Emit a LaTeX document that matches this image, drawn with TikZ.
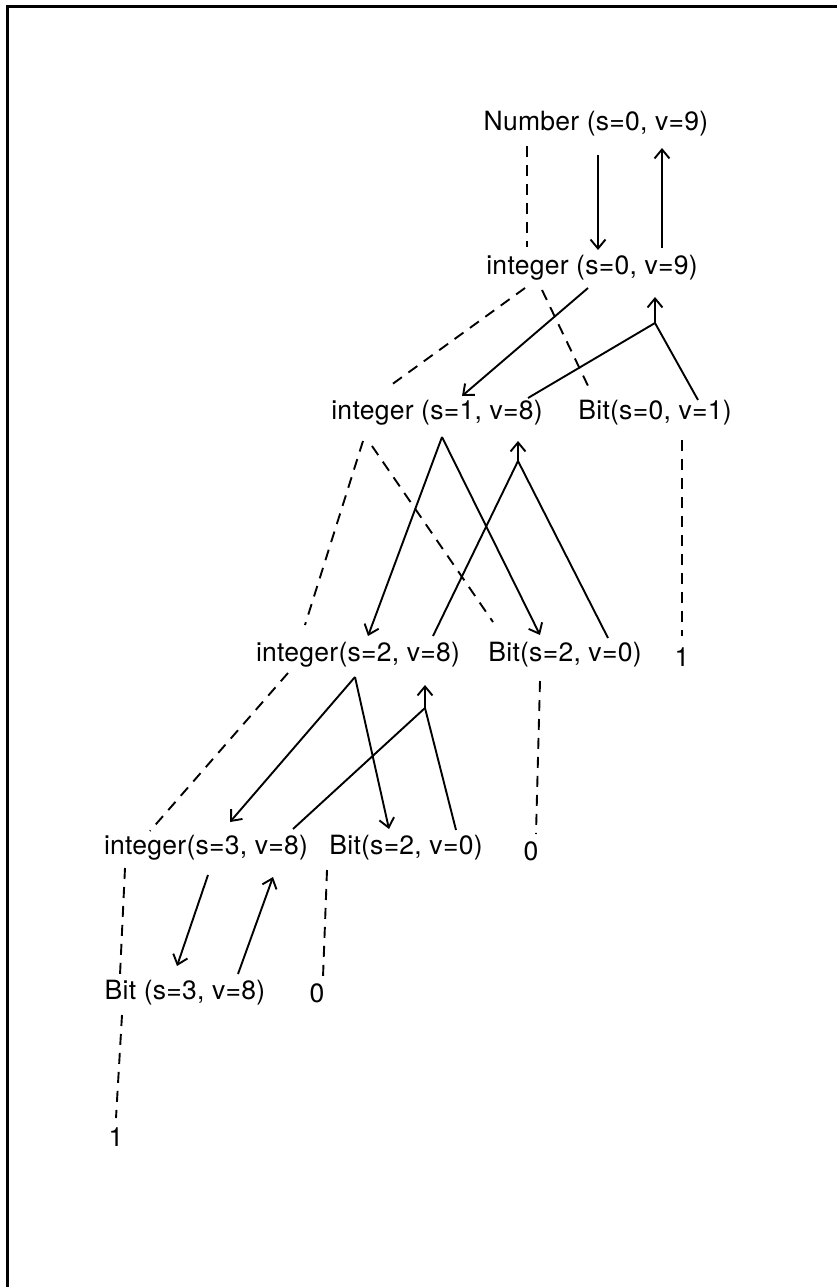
\documentclass[tikz,border=0pt]{standalone}
\usepackage{fontspec}
\setmainfont{TeX Gyre Heros}[LetterSpace=1]
\usetikzlibrary{arrows.meta,calc}
\begin{document}
\begin{tikzpicture}[x=1pt,y=-1pt,
  lbl/.style={font=\fontsize{26.5}{30}\selectfont, inner sep=0pt, anchor=center},
  dsh/.style={line width=1.9pt, dash pattern=on 11pt off 8pt},
  sol/.style={line width=1.9pt},
  arr/.style={sol, -{Straight Barb[length=9pt,width=15pt]}}]
\useasboundingbox (0,0) rectangle (837,1287);
\draw[line width=3pt] (7,1287) -- (7,7) -- (837,7);

\node[lbl] (num)  at (596,124) {Number (s=0, v=9)};
\node[lbl] (i0)   at (592,268) {integer (s=0, v=9)};
\node[lbl] (i1)   at (437,413) {integer (s=1, v=8)};
\node[lbl] (b0)   at (655,413) {Bit(s=0, v=1)};
\node[lbl] (i2)   at (358,655) {integer(s=2, v=8)};
\node[lbl] (b2a)  at (565,655) {Bit(s=2, v=0)};
\node[lbl] (one1) at (682,657) {1};
\node[lbl] (i3)   at (206,848) {integer(s=3, v=8)};
\node[lbl] (b2b)  at (406,848) {Bit(s=2, v=0)};
\node[lbl] (zero1) at (531,851) {0};
\node[lbl] (b3)   at (185,993) {Bit (s=3, v=8)};
\node[lbl] (zero2) at (317,993) {0};
\node[lbl] (one2) at (116,1137) {1};

\coordinate (J1) at ($(i0.center)+(63,55)$);
\coordinate (J2) at ($(i1.center)+(81,48)$);
\coordinate (J3) at ($(i2.center)+(67,53)$);
\coordinate (P1) at ($(i1.center)+(5,24)$);
\coordinate (P2) at ($(i2.center)+(-3,22)$);

% dashed parse-tree edges
\draw[dsh] ($(num.center)+(-69,22)$) -- ($(i0.center)+(-65,-21)$);
\draw[dsh] ($(i0.center)+(-67,20)$) -- ($(i1.center)+(-50,-25)$);
\draw[dsh] ($(i0.center)+(-50,22)$) -- ($(b0.center)+(-65,-23)$);
\draw[dsh] ($(b0.center)+(27,27)$) -- ($(one1.center)+(0,-21)$);
\draw[dsh] ($(i1.center)+(-74,28)$) -- ($(i2.center)+(-53,-30)$);
\draw[dsh] ($(i1.center)+(-65,33)$) -- ($(b2a.center)+(-72,-33)$);
\draw[dsh] ($(i2.center)+(-70,18)$) -- ($(i3.center)+(-56,-17)$);
\draw[dsh] ($(b2a.center)+(-25,26)$) -- ($(zero1.center)+(5,-17)$);
\draw[dsh] ($(i3.center)+(-81,20)$) -- ($(b3.center)+(-65,-18)$);
\draw[dsh] ($(b2b.center)+(-79,22)$) -- ($(zero2.center)+(6,-16)$);
\draw[dsh] ($(b3.center)+(-63,22)$) -- ($(one2.center)+(0,-19)$);

% solid attribute flow
\draw[arr] ($(num.center)+(2,31)$) -- ($(i0.center)+(6,-18)$);
\draw[arr] ($(i0.center)+(70,-20)$) -- ($(num.center)+(66,24)$);
\draw[arr] ($(i0.center)+(-4,20)$) -- ($(i1.center)+(25,-17)$);
\draw[sol] ($(i1.center)+(91,-15)$) -- (J1);
\draw[sol] ($(b0.center)+(43,-13)$) -- (J1);
\draw[arr] (J1) -- ($(i0.center)+(63,29)$);

\draw[arr] (P1) -- ($(i2.center)+(10,-19)$);
\draw[arr] (P1) -- ($(b2a.center)+(-25,-20)$);
\draw[sol] ($(i2.center)+(75,-19)$) -- (J2);
\draw[sol] ($(b2a.center)+(43,-17)$) -- (J2);
\draw[arr] (J2) -- ($(i1.center)+(81,28)$);

\draw[arr] (P2) -- ($(i3.center)+(24,-26)$);
\draw[arr] (P2) -- ($(b2b.center)+(-17,-19)$);
\draw[sol] ($(i3.center)+(87,-19)$) -- (J3);
\draw[sol] ($(b2b.center)+(50,-18)$) -- (J3);
\draw[arr] (J3) -- ($(i2.center)+(67,30)$);

\draw[arr] ($(i3.center)+(2,27)$) -- ($(b3.center)+(-8,-27)$);
\draw[arr] ($(b3.center)+(53,-19)$) -- ($(i3.center)+(67,29)$);
\end{tikzpicture}
\end{document}
